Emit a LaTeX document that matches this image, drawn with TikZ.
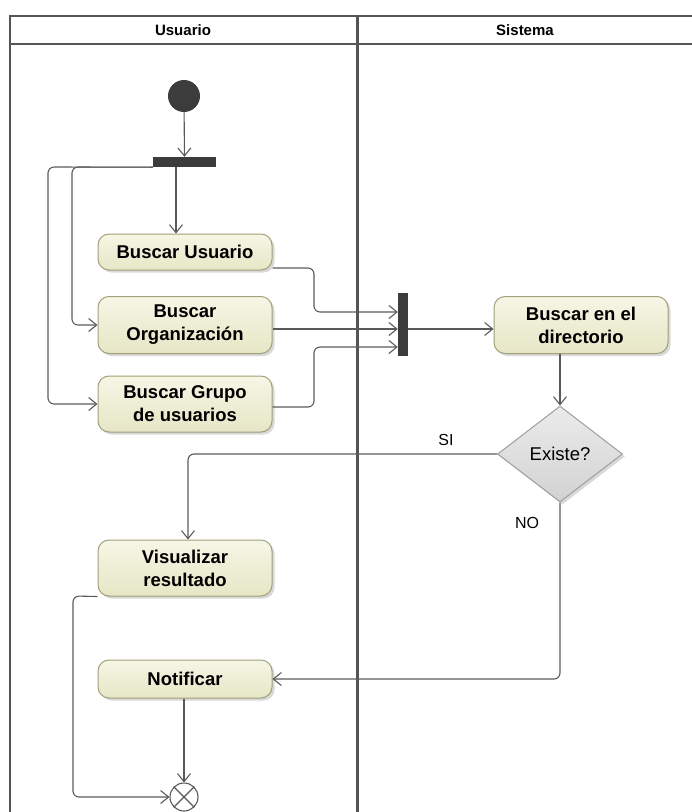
\documentclass[tikz,border=0pt]{standalone}
\usepackage{fontspec}
\setmainfont{Liberation Sans}
\usetikzlibrary{arrows.meta,shapes.geometric,shadows}
\definecolor{lanecol}{HTML}{555555}
\definecolor{linecol}{HTML}{5A5A5A}
\definecolor{barcol}{HTML}{3C3C3C}
\definecolor{boxborder}{HTML}{A0A07A}
\definecolor{boxtop}{HTML}{F6F6E6}
\definecolor{boxbot}{HTML}{E6E6C6}
\definecolor{diatop}{HTML}{EBEBEB}
\definecolor{diabot}{HTML}{D2D2D2}
\tikzset{
  action/.style={draw=boxborder, line width=1pt, rounded corners=11pt,
    top color=boxtop, bottom color=boxbot, minimum width=174pt,
    align=center, inner sep=2pt,
    font=\bfseries\fontsize{18.5}{23}\selectfont,
    drop shadow={shadow xshift=2.5pt, shadow yshift=-2.5pt, fill=black!25, opacity=0.6}},
  bar/.style={fill=barcol, draw=none, inner sep=0pt},
  flow/.style={draw=linecol, line width=1.1pt, rounded corners=6pt,
    -{Straight Barb[length=8pt,width=13pt,line width=1.1pt]}},
  lane/.style={draw=lanecol, line width=2.2pt},
  hdr/.style={font=\bfseries\fontsize{15}{18}\selectfont},
  lbl/.style={font=\fontsize{16}{19}\selectfont}
}
\begin{document}
\begin{tikzpicture}[x=1pt,y=-1pt]
\useasboundingbox (0,0) rectangle (692,812);
% swimlanes
\draw[lane] (10,16) rectangle (700,830);
\draw[lane] (10,44) -- (700,44);
\draw[draw=lanecol, line width=3pt] (357,16) -- (357,830);
\node[hdr] (hu) at (183,30) {Usuario};
\node[hdr] (hs) at (525,30) {Sistema};

% nodes
\node[circle, fill=barcol, minimum size=32pt, inner sep=0pt] (start) at (184,96) {};
\node[bar, minimum width=63pt, minimum height=10pt] (fork) at (184.5,162) {};
\node[action, minimum height=36pt] (usu) at (185,252) {Buscar Usuario};
\node[action, minimum height=57pt] (org) at (185,325) {Buscar\\Organización};
\node[action, minimum height=56pt] (grp) at (185,404) {Buscar Grupo\\de usuarios};
\node[bar, minimum width=10pt, minimum height=63pt] (join) at (403,324) {};
\node[action, minimum height=57pt] (dir) at (581,325) {Buscar en el\\directorio};
\node[diamond, draw=black!38, line width=1pt, top color=diatop, bottom color=diabot,
  minimum width=125pt, minimum height=96pt, inner sep=0pt, font=\fontsize{18.5}{22}\selectfont,
  drop shadow={shadow xshift=2.5pt, shadow yshift=-2.5pt, fill=black!25, opacity=0.6}] (dec) at (560,454) {Existe?};
\node[action, minimum height=56pt] (vis) at (185,568) {Visualizar\\resultado};
\node[action, minimum height=38pt] (notif) at (185,679) {Notificar};
\node[circle, draw=linecol, fill=white, line width=1.1pt, minimum size=28pt, inner sep=0pt] (final) at (184,797) {};
\draw[linecol, line width=1.1pt] (final.north west) -- (final.south east)
  (final.north east) -- (final.south west);

% helper coordinates
\coordinate (fa) at ([xshift=-8.5pt]fork.south);
\coordinate (r329) at (0,329);
\coordinate (vn) at ([xshift=3pt]vis.north);

% connectors
\draw[flow] (start) -- (fork);
\draw[flow] (fa) -- (usu.north -| fa);
\draw[flow] (fork.south west) -- (72,167) -- (72,325) -- (org.west);
\draw[flow] (fork.south west) -- (48,167) -- (48,404) -- (grp.west);
\draw[flow] ([yshift=-16pt]usu.east) -- (314,268) -- (314,312) -- ([yshift=12pt]join.west);
\draw[flow] (org.east |- r329) -- ([yshift=-5pt]join.west);
\draw[flow] ([yshift=-3pt]grp.east) -- (314,407) -- (314,347) -- ([yshift=-23pt]join.west);
\draw[flow] (join.east |- r329) -- (dir.west |- r329);
\draw[flow] (dir.south -| dec.north) -- (dec.north);
\draw[flow] (dec.west) -| (vn);
\node[lbl] (si) at (446,440) {SI};
\draw[flow] (dec.south) |- (notif.east);
\node[lbl] (no) at (527,523) {NO};
\draw[flow] (vis.south west) -- (73,596) -- (73,797) -- (final.west);
\draw[flow] (notif.south -| final.north) -- (final.north);
\end{tikzpicture}
\end{document}
